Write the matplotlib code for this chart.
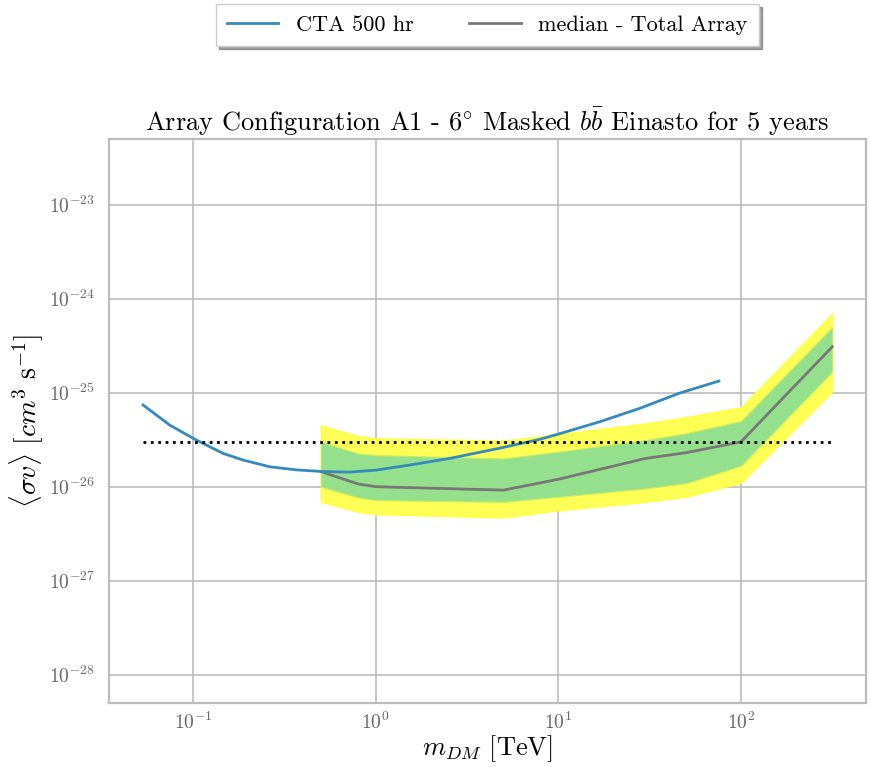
import numpy as np
import matplotlib
matplotlib.use("Agg")
import matplotlib.pyplot as plt

plt.rcParams['font.family'] = 'serif'
plt.rcParams['font.serif'] = ['cmr10', 'DejaVu Serif']
plt.rcParams['mathtext.fontset'] = 'cm'
plt.rcParams['axes.formatter.use_mathtext'] = True

# CTA 500 hr sensitivity curve
cta_mass = [0.0532, 0.0744, 0.104, 0.146, 0.188, 0.263, 0.368, 0.515, 0.72, 1.0,
            1.53, 2.54, 4.77, 7.9, 10.0, 16.8, 27.8, 46.1, 75.7]
cta_sv = [7.4e-26, 4.53e-26, 3.14e-26, 2.26e-26, 1.92e-26, 1.63e-26, 1.51e-26, 1.45e-26,
          1.43e-26, 1.5e-26, 1.70e-26, 2.0e-26, 2.57e-26, 3.19e-26, 3.63e-26, 4.9e-26,
          6.8e-26, 9.9e-26, 1.33e-25]

# median limit and containment bands
mass = [0.5, 0.8, 1.0, 5.0, 10.0, 30.0, 50.0, 100.0, 316.0]
median = [1.45e-26, 1.07e-26, 1.0e-26, 9.2e-27, 1.2e-26, 2.0e-26, 2.3e-26, 3.0e-26, 3.08e-25]
sig1_lo = [1.0e-26, 7.7e-27, 7.2e-27, 6.9e-27, 7.8e-27, 9.6e-27, 1.09e-26, 1.67e-26, 1.67e-25]
sig1_hi = [3.0e-26, 2.26e-26, 2.17e-26, 2.0e-26, 2.36e-26, 3.14e-26, 3.7e-26, 5.0e-26, 5.0e-25]
sig2_lo = [6.9e-27, 5.4e-27, 5.1e-27, 4.7e-27, 5.6e-27, 6.9e-27, 7.8e-27, 1.1e-26, 1.03e-25]
sig2_hi = [4.5e-26, 3.46e-26, 3.27e-26, 3.1e-26, 3.63e-26, 4.72e-26, 5.5e-26, 7.0e-26, 7.0e-25]

thermal = 3e-26
thermal_range = [0.0532, 316.0]

fig = plt.figure(figsize=(8.71, 7.67), dpi=100)
ax = fig.add_axes([0.1251, 0.0834, 0.8692, 0.7354])

ax.fill_between(mass, sig2_lo, sig2_hi, color='#ffff55', lw=0.8, edgecolor='#ffff33', zorder=2)
ax.fill_between(mass, sig1_lo, sig1_hi, color='#95e08c', lw=0.8, edgecolor='#c8ee60', zorder=3)
ax.plot(cta_mass, cta_sv, color='#348ABD', lw=2.0, label='CTA 500 hr', zorder=5)
ax.plot(mass, median, color='#777777', lw=2.0, label='median - Total Array', zorder=4)
ax.plot(thermal_range, [thermal, thermal], color='black', ls=':', lw=2.0, zorder=6)

ax.set_xscale('log')
ax.set_yscale('log')
ax.set_xlim(0.0346, 484)
ax.set_ylim(5e-29, 5e-23)
ax.set_xticks([1e-1, 1e0, 1e1, 1e2])
ax.set_yticks([1e-28, 1e-27, 1e-26, 1e-25, 1e-24, 1e-23])
ax.minorticks_off()
ax.tick_params(length=0, labelsize=14, labelcolor='#666666')
ax.tick_params(axis='y', pad=10)
ax.tick_params(axis='x', pad=6)

ax.grid(True, color='#b8b8b8', lw=1.1)
ax.set_axisbelow(True)
for s in ax.spines.values():
    s.set_color('#bcbcbc')
    s.set_linewidth(1.6)

ax.set_xlabel(r'$m_{DM}$ [TeV]', fontsize=19, labelpad=0)
ax.set_ylabel(r'$\langle \sigma v \rangle\ [cm^3\ \mathrm{s}^{-1}]$', fontsize=20, labelpad=2)
ax.set_title(r'Array Configuration A1 - $6^{\circ}$ Masked $b\bar{b}$ Einasto for 5 years',
             fontsize=19, pad=6)

leg = ax.legend(loc='center', bbox_to_anchor=(0.5, 1.202), ncol=2, fontsize=16,
                shadow=True, fancybox=False, frameon=True, handlelength=2.3,
                columnspacing=2.5, borderpad=0.5)
leg.get_frame().set_edgecolor('#cccccc')

fig.savefig('out.png', dpi=100)
